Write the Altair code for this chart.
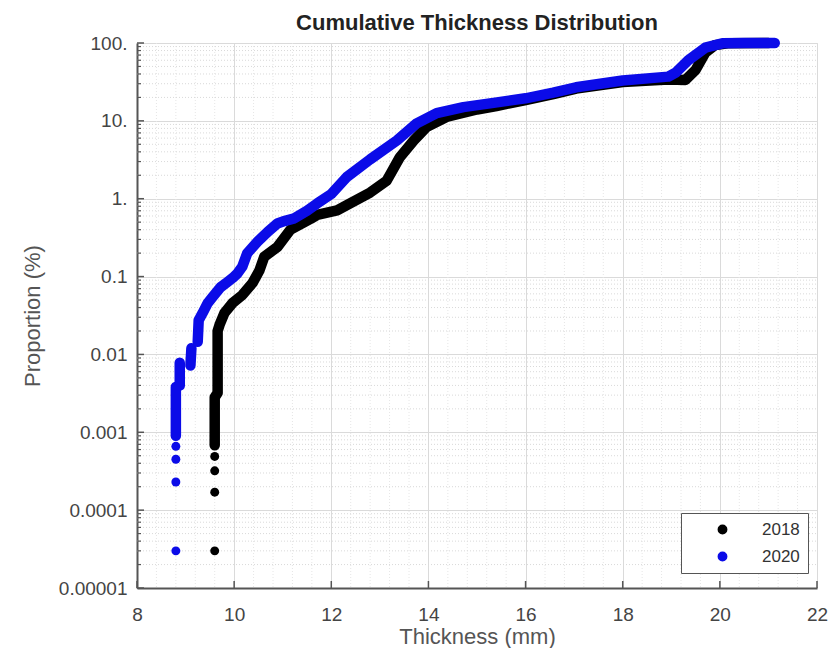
import math
import altair as alt
import pandas as pd

# ---------------- data ----------------
years = ["2018", "2020"]
year_colors = ["#000000", "#0b0be8"]

# isolated low-proportion dots
tail_2018_x = [9.6, 9.6, 9.6, 9.6]
tail_2018_y = [0.00003, 0.00017, 0.00032, 0.00049]
tail_2020_x = [8.8, 8.8, 8.8, 8.8]
tail_2020_y = [0.00003, 0.00023, 0.00045, 0.00066]

# dense part of the 2018 cumulative curve
curve_2018_x = [9.6, 9.6, 9.66, 9.66, 9.70, 9.80, 9.97, 10.17, 10.38, 10.52, 10.62,
                10.89, 11.16, 11.57, 11.71, 12.12, 12.32, 12.8, 13.14, 13.41, 13.70,
                13.96, 14.37, 15.0, 15.4, 16.0, 16.57, 17.04, 18.0, 18.94, 19.29,
                19.5, 19.7, 19.9, 20.2, 21.0]
curve_2018_y = [0.00068, 0.0028, 0.0032, 0.02, 0.024, 0.034, 0.046, 0.058, 0.083, 0.12, 0.18,
                0.24, 0.40, 0.55, 0.62, 0.71, 0.83, 1.2, 1.7, 3.4, 5.6,
                8.3, 11.2, 14.0, 15.5, 18.5, 22.0, 26.0, 31.5, 34.0, 33.5,
                45.0, 75.0, 94.0, 99.5, 100.0]
curve_2018_seg = [0] * len(curve_2018_x)

# dense part of the 2020 cumulative curve (three pieces)
curve_2020_x = [8.8, 8.8, 8.88, 8.88,
                9.10, 9.12,
                9.25, 9.27, 9.35, 9.45, 9.56, 9.72, 9.86, 9.97, 10.07, 10.17, 10.27,
                10.48, 10.7, 10.89, 11.05, 11.24, 11.5, 11.71, 12.0, 12.32, 12.8,
                13.35, 13.76, 14.17, 14.72, 15.34, 16.0, 16.57, 17.04, 18.0, 18.94,
                19.1, 19.35, 19.7, 20.05, 20.5, 21.13]
curve_2020_y = [0.0009, 0.0038, 0.0040, 0.0078,
                0.0072, 0.012,
                0.0145, 0.0275, 0.034, 0.045, 0.055, 0.073, 0.085, 0.096, 0.11, 0.135, 0.2,
                0.28, 0.38, 0.48, 0.52, 0.56, 0.7, 0.87, 1.15, 1.9, 3.2,
                5.6, 9.3, 12.6, 15.0, 17.0, 19.5, 23.0, 27.0, 33.0, 37.0,
                42.0, 60.0, 87.0, 99.0, 100.0, 100.0]
curve_2020_seg = [0] * 4 + [1] * 2 + [2] * 37

x_ticks = [8, 10, 12, 14, 16, 18, 20, 22]
y_ticks = [0.00001, 0.0001, 0.001, 0.01, 0.1, 1, 10, 100]
y_tick_labels = ["0.00001", "0.0001", "0.001", "0.01", "0.1", "1.", "10.", "100."]

title_text = "Cumulative Thickness Distribution"
x_title = "Thickness (mm)"
y_title = "Proportion (%)"

# ---------------- tables ----------------
tail_df = pd.DataFrame({
    "x": tail_2018_x + tail_2020_x,
    "y": tail_2018_y + tail_2020_y,
    "year": [years[0]] * len(tail_2018_x) + [years[1]] * len(tail_2020_x),
})
curve_df = pd.DataFrame({
    "x": curve_2018_x + curve_2020_x,
    "y": curve_2018_y + curve_2020_y,
    "year": [years[0]] * len(curve_2018_x) + [years[1]] * len(curve_2020_x),
    "seg": [years[0] + "-" + str(s) for s in curve_2018_seg]
           + [years[1] + "-" + str(s) for s in curve_2020_seg],
    "i": list(range(len(curve_2018_x))) + list(range(len(curve_2020_x))),
})

x_minor = [round(8 + 0.4 * k, 2) for k in range(36)]
x_minor = [v for v in x_minor if abs(v / 2 - round(v / 2)) > 1e-6]
y_minor = [m * 10.0 ** e for e in range(-5, 2) for m in range(2, 10)]

xminor_df = pd.DataFrame({"x": x_minor})
yminor_df = pd.DataFrame({"y": y_minor})
xmajor_df = pd.DataFrame({"x": x_ticks})
ymajor_df = pd.DataFrame({"y": y_ticks})

# ---------------- styling ----------------
W, H = 680, 545
FONT = "Liberation Sans"
AXIS_COL = "#555555"

xs = alt.Scale(domain=[8, 22], nice=False, zero=False)
ys = alt.Scale(type="log", domain=[0.00001, 100], nice=False)
cs = alt.Scale(domain=years, range=year_colors)

label_expr = "''"
for v, lab in zip(y_ticks, y_tick_labels):
    label_expr = (f"abs(log(datum.value)/LN10 - ({round(math.log10(v))})) < 0.01 "
                  f"? '{lab}' : ({label_expr})")

x_axis = alt.Axis(values=x_ticks, grid=True, gridColor="#dadada", gridWidth=1,
                  domainColor=AXIS_COL, domainWidth=2, ticks=False, tickSize=0,
                  labelFont=FONT, labelFontSize=19, labelColor="#444444",
                  labelPadding=17, labelFlush=False, labelOverlap=False,
                  title=x_title, titleFont=FONT, titleFontSize=22,
                  titleFontWeight="normal", titleColor="#555555", titlePadding=2)
y_axis = alt.Axis(values=y_ticks, labelExpr=label_expr, grid=True, gridColor="#dadada",
                  gridWidth=1, domainColor=AXIS_COL, domainWidth=2, ticks=False,
                  tickSize=0, labelFont=FONT, labelFontSize=19, labelColor="#444444",
                  labelPadding=10, labelFlush=False, labelOverlap=False,
                  title=y_title, titleFont=FONT, titleFontSize=22,
                  titleFontWeight="normal", titleColor="#555555", titlePadding=14)

legend = alt.Legend(title=None, orient="none", legendX=544, legendY=470,
                    direction="vertical", padding=8, rowPadding=9, symbolOffset=25,
                    labelOffset=31, symbolSize=70, symbolType="circle",
                    labelFont=FONT, labelFontSize=17, labelColor="#333333",
                    strokeColor=AXIS_COL, fillColor="white")

X = alt.X("x:Q", scale=xs, axis=x_axis)
Y = alt.Y("y:Q", scale=ys, axis=y_axis)

xgrid_minor = alt.Chart(xminor_df).mark_rule(
    color="#e6e6e6", strokeWidth=1, strokeDash=[1, 2]
).encode(x=X, y=alt.value(0), y2=alt.value(H))

ygrid_minor = alt.Chart(yminor_df).mark_rule(
    color="#d9d9d9", strokeWidth=1, strokeDash=[1, 2]
).encode(y=Y, x=alt.value(0), x2=alt.value(W))

ytick_minor = alt.Chart(yminor_df).mark_rule(color=AXIS_COL, strokeWidth=1.2).encode(
    y=Y, x=alt.value(0), x2=alt.value(4))
ytick_major = alt.Chart(ymajor_df).mark_rule(color=AXIS_COL, strokeWidth=1.5).encode(
    y=Y, x=alt.value(0), x2=alt.value(7))
xtick_major = alt.Chart(xmajor_df).mark_rule(color=AXIS_COL, strokeWidth=1.5).encode(
    x=X, y=alt.value(H), y2=alt.value(H - 7))

dots = alt.Chart(tail_df).mark_circle(size=80, opacity=1).encode(
    x=X, y=Y,
    color=alt.Color("year:N", scale=cs, legend=legend),
)

lines = alt.Chart(curve_df).mark_line(
    strokeWidth=10.5, strokeCap="round", strokeJoin="round"
).encode(
    x=X, y=Y,
    color=alt.Color("year:N", scale=cs, legend=None),
    detail="seg:N",
    order="i:Q",
)

chart = alt.layer(
    xgrid_minor, ygrid_minor, ytick_minor, ytick_major, xtick_major, dots, lines
).properties(
    width=W, height=H,
    title=alt.TitleParams(title_text, font=FONT, fontSize=22, fontWeight="bold",
                          color="#222222", anchor="middle", offset=11, frame="group",
                          dy=12),
    autosize=alt.AutoSizeParams(type="none"),
    padding={"left": 129, "top": 35, "right": 11, "bottom": 60},
).configure_view(stroke=None).configure(background="white")

chart.save("out.html", embed_options={"renderer": "svg", "actions": False})
